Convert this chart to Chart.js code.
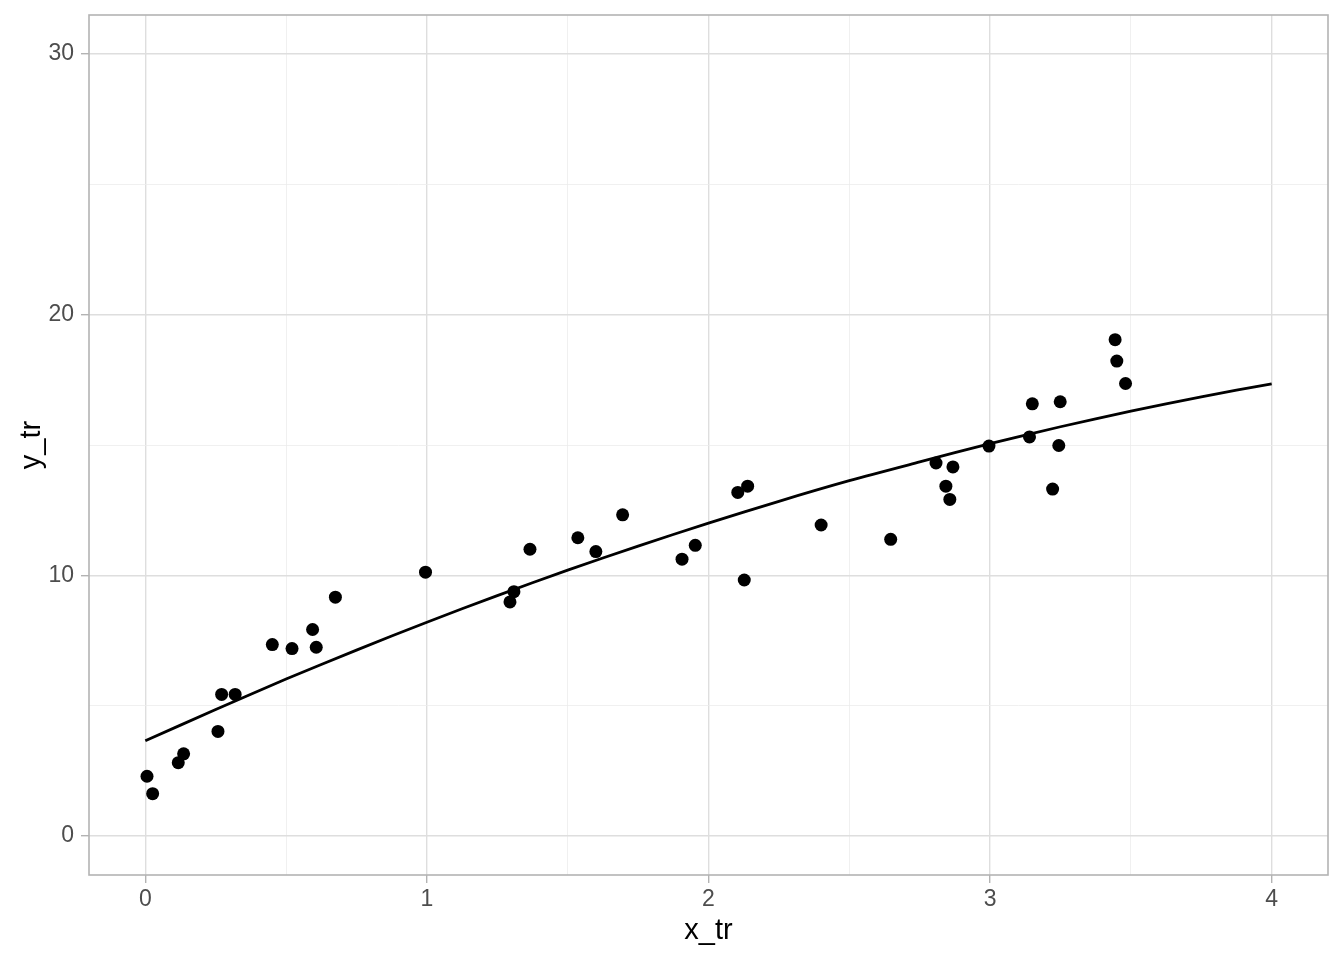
<!DOCTYPE html>
<html>
<head>
<meta charset="utf-8">
<title>y_tr vs x_tr</title>
<script src="https://cdn.jsdelivr.net/npm/chart.js@4/dist/chart.umd.min.js"></script>
<style>
    body { margin: 0; background: #ffffff; }
    #wrap { width: 1344px; height: 960px; }
</style>
</head>
<body>
<div id="wrap"><canvas id="myChart" width="1344" height="960"></canvas></div>
<script>
// observed points
const pointX = [0.006, 0.026, 0.117, 0.136, 0.258, 0.271, 0.319, 0.451, 0.521, 0.594,
    0.607, 0.675, 0.995, 1.295, 1.309, 1.366, 1.536, 1.600, 1.695, 1.906,
    1.953, 2.104, 2.127, 2.139, 2.400, 2.647, 2.808, 2.843, 2.857, 2.868,
    2.996, 3.140, 3.150, 3.222, 3.244, 3.249, 3.444, 3.450, 3.481];
const pointY = [2.29, 1.62, 2.81, 3.15, 4.01, 5.43, 5.43, 7.34, 7.19, 7.92,
    7.24, 9.16, 10.12, 8.98, 9.37, 11.00, 11.44, 10.91, 12.32, 10.62,
    11.15, 13.18, 9.82, 13.42, 11.93, 11.38, 14.31, 13.42, 12.91, 14.16,
    14.96, 15.31, 16.58, 13.31, 14.98, 16.66, 19.04, 18.22, 17.36];

// fitted curve
const fitX = [0, 0.25, 0.5, 0.75, 1, 1.25, 1.5, 1.75, 2, 2.25, 2.5, 2.75, 3, 3.25, 3.5, 3.75, 4];
const fitY = [3.65, 4.85, 6.02, 7.13, 8.2, 9.22, 10.2, 11.12, 12.0, 12.84, 13.63, 14.35,
    15.05, 15.7, 16.3, 16.85, 17.35];

const xMajor = [0, 1, 2, 3, 4];
const xMinor = [0.5, 1.5, 2.5, 3.5];
const yMajor = [0, 10, 20, 30];
const yMinor = [5, 15, 25];

const FONT = "'Liberation Sans', Arial, Helvetica, sans-serif";
const GRID_MAJOR = "#dedede";
const GRID_MINOR = "#ececec";
const FRAME = "#b3b3b3";

function gridOpts(major) {
    return {
        color: (ctx) => (ctx.tick && major.includes(ctx.tick.value) ? GRID_MAJOR : GRID_MINOR),
        lineWidth: (ctx) => (ctx.tick && major.includes(ctx.tick.value) ? 1.4 : 0.8),
        tickColor: (ctx) => (ctx.tick && major.includes(ctx.tick.value) ? FRAME : "rgba(0,0,0,0)"),
        tickLength: 8,
        tickWidth: 1.4,
    };
}

// box round the panel, like the ggplot panel border
const panelBorder = {
    id: "panelBorder",
    afterDraw(chart) {
        const { ctx, chartArea } = chart;
        ctx.save();
        ctx.strokeStyle = FRAME;
        ctx.lineWidth = 1.6;
        ctx.strokeRect(chartArea.left, chartArea.top,
            chartArea.right - chartArea.left, chartArea.bottom - chartArea.top);
        ctx.restore();
    },
};

const points = pointX.map((x, i) => ({ x: x, y: pointY[i] }));
const fit = fitX.map((x, i) => ({ x: x, y: fitY[i] }));

new Chart(document.getElementById("myChart"), {
    type: "scatter",
    data: {
        datasets: [
            {
                label: "points",
                data: points,
                backgroundColor: "#000000",
                borderWidth: 0,
                pointRadius: 6.5,
                order: 1,
            },
            {
                type: "line",
                label: "fit",
                data: fit,
                borderColor: "#000000",
                borderWidth: 2.8,
                pointRadius: 0,
                fill: false,
                tension: 0.3,
                order: 2,
            },
        ],
    },
    options: {
        responsive: false,
        animation: false,
        devicePixelRatio: 1,
        layout: { padding: { top: 15, right: 16, left: 0, bottom: 0 } },
        plugins: {
            legend: { display: false },
            tooltip: { enabled: false },
        },
        scales: {
            x: {
                type: "linear",
                min: -0.2,
                max: 4.2,
                afterBuildTicks: (scale) => {
                    scale.ticks = xMajor.concat(xMinor).sort((a, b) => a - b).map((v) => ({ value: v }));
                },
                afterFit: (scale) => {
                    scale.height = 85;
                    scale.paddingLeft = 0;
                    scale.paddingRight = 0;
                },
                grid: gridOpts(xMajor),
                border: { display: false },
                ticks: {
                    padding: 3,
                    color: "#4d4d4d",
                    font: { family: FONT, size: 23 },
                    maxRotation: 0,
                    autoSkip: false,
                    callback: (v) => (xMajor.includes(v) ? String(v) : ""),
                },
                title: {
                    display: true,
                    text: "x_tr",
                    color: "#000000",
                    font: { family: FONT, size: 29 },
                    padding: { top: 0, bottom: 12 },
                },
            },
            y: {
                type: "linear",
                min: -1.5,
                max: 31.5,
                afterBuildTicks: (scale) => {
                    scale.ticks = yMajor.concat(yMinor).sort((a, b) => a - b).map((v) => ({ value: v }));
                },
                afterFit: (scale) => {
                    scale.width = 89;
                    scale.paddingTop = 0;
                    scale.paddingBottom = 0;
                },
                grid: gridOpts(yMajor),
                border: { display: false },
                ticks: {
                    padding: 7,
                    color: "#4d4d4d",
                    font: { family: FONT, size: 23 },
                    autoSkip: false,
                    callback: (v) => (yMajor.includes(v) ? String(v) : ""),
                },
                title: {
                    display: true,
                    text: "y_tr",
                    color: "#000000",
                    font: { family: FONT, size: 29 },
                    padding: { top: 15, bottom: 0 },
                },
            },
        },
    },
    plugins: [panelBorder],
});
</script>
</body>
</html>
